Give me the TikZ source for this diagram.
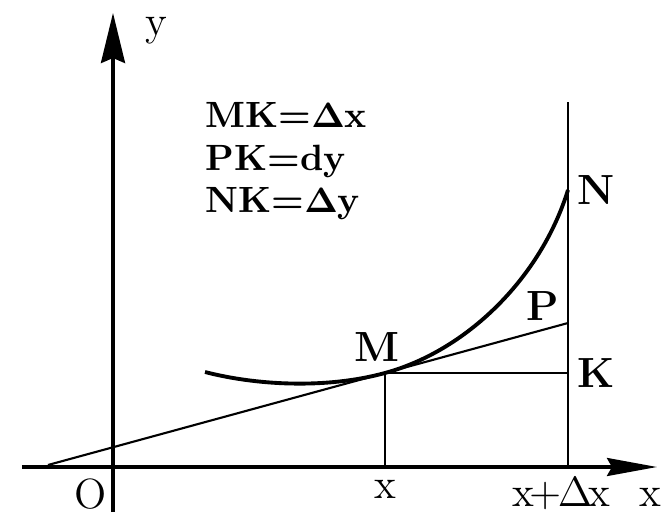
\documentclass[tikz,border=0pt]{standalone}
\usepackage{amsmath}
\usepackage{tikz}
\usetikzlibrary{arrows.meta}
\usetikzlibrary{positioning}

\begin{document}
\begin{tikzpicture}[x=0.01cm,y=0.01cm,
  axis/.style={line width=0.9pt,-{Stealth[length=5mm,width=#1,inset=0.5mm]}},
  axis/.default=2.2mm,
  thin line/.style={line width=0.6pt},
  curve line/.style={line width=1.1pt},
  pt label/.style={inner sep=0pt,font=\fontsize{12}{14}\selectfont\bfseries},
  axis label/.style={inner sep=0pt,font=\fontsize{12}{14}\selectfont},
  note/.style={inner sep=0pt,font=\fontsize{10.4}{12}\selectfont\bfseries\boldmath}]

\useasboundingbox (-113,-45) rectangle (551,467);

\coordinate (O) at (0,0);
\coordinate (x start) at (-91,0);
\coordinate (x end) at (544,0);
\coordinate (y start) at (0,-45);
\coordinate (y end) at (0,454);
\coordinate (T) at (-65,2);
\coordinate (M) at (272,94);
\coordinate (Mx) at (272,0);
\coordinate (K) at (455,94);
\coordinate (P) at (455,144);
\coordinate (N) at (455,277);
\coordinate (Dx) at (455,0);
\coordinate (Dx top) at (455,365);
\coordinate (C) at (92,95);

\draw[axis=1.8mm] (x start) -- (x end);
\draw[axis=2.4mm] (y start) -- (y end);

\draw[thin line] (T) -- (P);
\draw[thin line] (Dx) -- (Dx top);
\draw[thin line] (Mx) -- (M) -- (K);

\draw[curve line] (C) .. controls (142,82) and (212,77.6) .. (M)
  .. controls (352,115.8) and (427,187) .. (N);

\node[pt label,above=1.1mm of M,xshift=-0.75mm] (M label) {M};
\node[pt label,above left=0.2mm and 0.8mm of P] (P label) {P};
\node[pt label,right=0.9mm of N] (N label) {N};
\node[pt label,right=0.9mm of K] (K label) {K};

\node[axis label,below left=4.1mm and 0.6mm of O,anchor=base east] (O label) {O};
\node[axis label,below=3.1mm of Mx,anchor=base] (x label) {x};
\node[axis label,below=3.9mm of Dx,anchor=base,xshift=-0.65mm] (dx label)
  {x\kern-1.2pt+\kern-1.2pt$\Delta$\kern-1pt x};
\node[axis label,below=3.9mm of x end,anchor=base east,xshift=0.5mm] (x axis label) {x};
\node[axis label,below right=0.4mm and 3.2mm of y end] (y axis label) {y};

\node[note,anchor=base west] (mk) at (92,339) {MK=$\Delta$x};
\node[note,below=4.2mm of mk.base west,anchor=base west] (pk) {PK=dy};
\node[note,below=4.2mm of pk.base west,anchor=base west] (nk) {NK=$\Delta$y};
\end{tikzpicture}
\end{document}
